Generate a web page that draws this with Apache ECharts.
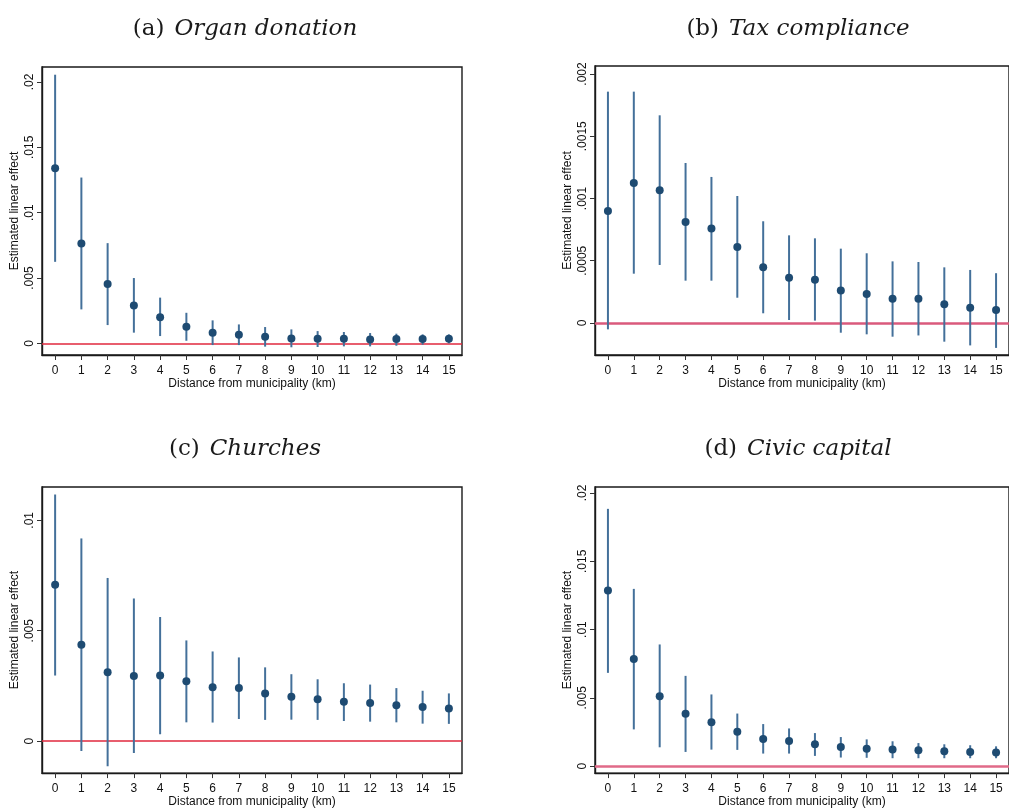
<!DOCTYPE html>
<html>
<head>
<meta charset="utf-8">
<script src="https://cdn.jsdelivr.net/npm/echarts@6/dist/echarts.min.js"></script>
<style>
  html, body { margin: 0; padding: 0; background: #fff; }
  #chart { width: 1009px; height: 809px; }
</style>
</head>
<body>
<div id="chart"></div>
<script>
// Distance bins (km)
const distances = ['0','1','2','3','4','5','6','7','8','9','10','11','12','13','14','15'];

// (a) Organ donation: point estimates and confidence bounds
const organEst   = [0.0134, 0.00764, 0.00454, 0.0029, 0.0020, 0.00127, 0.00082, 0.00066, 0.00051, 0.00038, 0.00036, 0.00036, 0.0003, 0.00033, 0.00033, 0.00036];
const organLow   = [0.00624, 0.0026, 0.0014, 0.00082, 0.00056, 0.0002, -0.00013, -0.00013, -0.00025, -0.0003, -0.00028, -0.00023, -0.00023, -0.00018, -0.0001, 0.0];
const organHigh  = [0.02056, 0.01269, 0.00767, 0.0050, 0.0035, 0.00234, 0.00176, 0.00145, 0.00125, 0.00107, 0.00094, 0.00087, 0.00079, 0.00074, 0.00069, 0.00069];
const organTicks = [0, 0.005, 0.01, 0.015, 0.02];

// (b) Tax compliance
const taxEst   = [0.0009, 0.001124, 0.001066, 0.000811, 0.000758, 0.00061, 0.000447, 0.000364, 0.000348, 0.000262, 0.000233, 0.000195, 0.000195, 0.00015, 0.000123, 0.000104];
const taxLow   = [-0.000051, 0.000396, 0.000466, 0.00034, 0.00034, 0.000203, 0.000078, 0.000024, 0.000019, -0.000078, -0.000091, -0.00011, -0.0001, -0.00015, -0.00018, -0.0002];
const taxHigh  = [0.001858, 0.001858, 0.001668, 0.001285, 0.001173, 0.00102, 0.000817, 0.000704, 0.00068, 0.000597, 0.00056, 0.000495, 0.00049, 0.000447, 0.000426, 0.0004];
const taxTicks = [0, 0.0005, 0.001, 0.0015, 0.002];

// (c) Churches
const churchEst   = [0.00708, 0.00436, 0.00312, 0.00295, 0.00297, 0.00271, 0.00244, 0.00241, 0.00216, 0.00201, 0.00189, 0.00178, 0.00172, 0.00162, 0.00154, 0.00148];
const churchLow   = [0.00297, -0.00045, -0.00114, -0.00054, 0.00031, 0.00085, 0.00084, 0.0010, 0.00096, 0.00097, 0.00096, 0.00091, 0.00088, 0.00085, 0.00079, 0.00078];
const churchHigh  = [0.01117, 0.00918, 0.00739, 0.00646, 0.00562, 0.00456, 0.00406, 0.00379, 0.00334, 0.00303, 0.0028, 0.00262, 0.00256, 0.0024, 0.00228, 0.00216];
const churchTicks = [0, 0.005, 0.01];

// (d) Civic capital
const civicEst   = [0.01286, 0.00785, 0.00511, 0.00383, 0.00322, 0.00252, 0.00199, 0.00184, 0.0016, 0.0014, 0.00128, 0.00121, 0.00116, 0.00109, 0.00104, 0.00099];
const civicLow   = [0.00683, 0.00269, 0.00138, 0.00104, 0.00121, 0.00119, 0.00092, 0.00092, 0.00075, 0.00063, 0.00061, 0.00058, 0.00058, 0.00058, 0.00058, 0.00058];
const civicHigh  = [0.01884, 0.01298, 0.00891, 0.00661, 0.00525, 0.00385, 0.00308, 0.00276, 0.00242, 0.00213, 0.00196, 0.00182, 0.00169, 0.0016, 0.00153, 0.00145];
const civicTicks = [0, 0.005, 0.01, 0.015, 0.02];

const panelTitles = [
  ['(a)', 'Organ donation'],
  ['(b)', 'Tax compliance'],
  ['(c)', 'Churches'],
  ['(d)', 'Civic capital']
];

const panels = [
  { est: organEst,  low: organLow,  high: organHigh,  ticks: organTicks,  yMin: -0.00089,  yMax: 0.02115,  refColor: '#e0283e', refWidth: 1.5 },
  { est: taxEst,    low: taxLow,    high: taxHigh,    ticks: taxTicks,    yMin: -0.000257, yMax: 0.002064, refColor: '#da5a7c', refWidth: 2.6 },
  { est: churchEst, low: churchLow, high: churchHigh, ticks: churchTicks, yMin: -0.00145,  yMax: 0.01151,  refColor: '#e0283e', refWidth: 1.5 },
  { est: civicEst,  low: civicLow,  high: civicHigh,  ticks: civicTicks,  yMin: -0.00051,  yMax: 0.02044,  refColor: '#e06a88', refWidth: 2.6 }
];

// Panel layout (px)
const grids = [
  { left: 42,  top: 67,  width: 420, height: 288 },
  { left: 595, top: 66,  width: 420, height: 289 },
  { left: 42,  top: 487, width: 420, height: 289 },
  { left: 595, top: 487, width: 420, height: 289 }
];
const titleCenters = [[240, 13], [793, 13], [240, 433], [793, 433]];

const markerColor = '#1e4b72';
const barColor = '#44709a';
const sansFont = 'Liberation Sans, Arial, sans-serif';
const serifFont = 'DejaVu Serif, serif';

function fmtTick(v) {
  if (v === 0) return '0';
  return String(+v.toPrecision(6)).replace(/^0\./, '.');
}

const option = {
  animation: false,
  backgroundColor: '#fff',
  title: panelTitles.map((t, i) => ({
    text: '{u|' + t[0] + '}  {i|' + t[1] + '}',
    left: titleCenters[i][0],
    top: titleCenters[i][1],
    textAlign: 'center',
    textStyle: {
      fontWeight: 'normal',
      rich: {
        u: { fontFamily: serifFont, fontWeight: 'normal', fontSize: 23, color: '#1a1a1a' },
        i: { fontFamily: serifFont, fontWeight: 'normal', fontStyle: 'italic', fontSize: 23, color: '#1a1a1a' }
      }
    }
  })),
  grid: grids.map(g => Object.assign({ show: true, borderColor: '#1a1a1a', borderWidth: 1.4, backgroundColor: '#fff' }, g)),
  xAxis: panels.map((p, i) => ({
    type: 'category',
    gridIndex: i,
    data: distances,
    boundaryGap: true,
    name: 'Distance from municipality (km)',
    nameLocation: 'middle',
    nameGap: 21,
    nameTextStyle: { fontFamily: sansFont, fontSize: 12, color: '#111' },
    axisLine: { show: true, onZero: false, lineStyle: { color: '#1a1a1a', width: 1.4 } },
    axisTick: { show: true, alignWithLabel: true, length: 5, lineStyle: { color: '#333' } },
    axisLabel: { fontFamily: sansFont, fontSize: 12, color: '#111', margin: 10, interval: 0 },
    splitLine: { show: false }
  })),
  yAxis: panels.map((p, i) => ({
    type: 'value',
    gridIndex: i,
    min: p.yMin,
    max: p.yMax,
    name: 'Estimated linear effect',
    nameLocation: 'middle',
    nameGap: 21,
    nameRotate: 90,
    nameTextStyle: { fontFamily: sansFont, fontSize: 12, color: '#111' },
    axisLine: { show: true, onZero: false, lineStyle: { color: '#1a1a1a', width: 1.4 } },
    axisTick: { show: true, length: 5, customValues: p.ticks, lineStyle: { color: '#333' } },
    axisLabel: {
      customValues: p.ticks,
      rotate: 90,
      fontFamily: sansFont,
      fontSize: 12,
      color: '#111',
      margin: 6,
      formatter: v => fmtTick(v)
    },
    splitLine: { show: false }
  })),
  series: []
};

panels.forEach((p, i) => {
  // confidence intervals
  option.series.push({
    type: 'custom',
    xAxisIndex: i,
    yAxisIndex: i,
    silent: true,
    z: 2,
    data: distances.map((d, k) => [k, p.low[k], p.high[k]]),
    renderItem: (params, api) => {
      const a = api.coord([api.value(0), api.value(1)]);
      const b = api.coord([api.value(0), api.value(2)]);
      return {
        type: 'line',
        shape: { x1: a[0], y1: a[1], x2: b[0], y2: b[1] },
        style: { stroke: barColor, lineWidth: 2 }
      };
    },
    markLine: {
      silent: true,
      symbol: 'none',
      label: { show: false },
      lineStyle: { color: p.refColor, width: p.refWidth, type: 'solid', opacity: 1 },
      data: [{ yAxis: 0 }],
      z: 1
    }
  });
  // point estimates
  option.series.push({
    type: 'scatter',
    xAxisIndex: i,
    yAxisIndex: i,
    silent: true,
    z: 3,
    symbol: 'circle',
    symbolSize: 8,
    itemStyle: { color: markerColor, opacity: 1 },
    data: distances.map((d, k) => [k, p.est[k]])
  });
});

const chart = echarts.init(document.getElementById('chart'), null, { renderer: 'canvas' });
chart.setOption(option);
</script>
</body>
</html>
